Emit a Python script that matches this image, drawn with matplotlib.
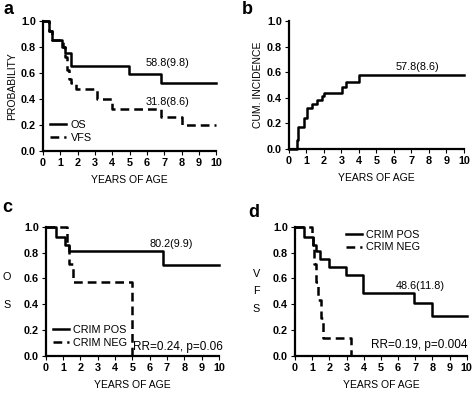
import matplotlib
matplotlib.use('Agg')
import matplotlib.pyplot as plt

plt.rcParams['font.family'] = ['Liberation Sans', 'DejaVu Sans']

# Panel a: OS and VFS
os_t = [0, 0.35, 0.55, 1.1, 1.3, 1.6, 4.95, 6.8, 10]
os_p = [1.0, 0.92, 0.85, 0.80, 0.75, 0.65, 0.59, 0.52, 0.52]
vfs_t = [0, 0.35, 0.55, 1.15, 1.3, 1.4, 1.5, 1.6, 1.9, 3.1, 4.0, 6.8, 8.0, 10]
vfs_p = [1.0, 0.92, 0.85, 0.80, 0.72, 0.62, 0.55, 0.52, 0.48, 0.40, 0.32, 0.26, 0.20, 0.20]

# Panel b: cumulative incidence
ci_t = [0, 0.44, 0.54, 0.86, 1.01, 1.3, 1.59, 1.87, 2.0, 3.02, 3.25, 4.0, 10]
ci_p = [0.0, 0.07, 0.17, 0.24, 0.32, 0.35, 0.38, 0.41, 0.44, 0.48, 0.52, 0.58, 0.58]

# Panel c: OS by CRIM status
c_pos_t = [0, 0.58, 1.13, 1.33, 6.77, 10]
c_pos_p = [1.0, 0.92, 0.86, 0.81, 0.70, 0.70]
c_neg_t = [0, 1.2, 1.35, 1.55, 1.65, 5.0]
c_neg_p = [1.0, 0.86, 0.71, 0.57, 0.57, 0.0]

# Panel d: VFS by CRIM status
d_pos_t = [0, 0.54, 1.04, 1.2, 1.47, 1.95, 2.98, 3.95, 6.9, 8.0, 10]
d_pos_p = [1.0, 0.92, 0.86, 0.81, 0.75, 0.69, 0.63, 0.49, 0.41, 0.31, 0.31]
d_neg_t = [0, 1.0, 1.05, 1.1, 1.2, 1.35, 1.5, 1.65, 3.27]
d_neg_p = [1.0, 0.93, 0.86, 0.71, 0.57, 0.43, 0.29, 0.14, 0.0]

xticks = list(range(0, 11))
yticks = [0.0, 0.2, 0.4, 0.6, 0.8, 1.0]

fig = plt.figure(figsize=(4.72, 3.95), dpi=100)

positions = {
    'a': [0.091, 0.618, 0.367, 0.329],
    'b': [0.612, 0.623, 0.371, 0.324],
    'c': [0.097, 0.099, 0.367, 0.327],
    'd': [0.625, 0.099, 0.364, 0.327],
}
# panel letter positions (axes fraction)
letter_pos = {'a': (-0.23, 1.085), 'b': (-0.27, 1.09), 'c': (-0.25, 1.15), 'd': (-0.27, 1.11)}

FS = 7.8
LW = 1.8
DASH = (0, (3.5, 2))


def setup(ax, letter):
    ax.set_xlim(0, 10)
    ax.set_ylim(0, 1)
    ax.spines['top'].set_visible(False)
    ax.spines['right'].set_visible(False)
    ax.spines['left'].set_linewidth(1.6)
    ax.spines['bottom'].set_linewidth(1.6)
    ax.set_xticks(xticks)
    ax.set_xticklabels([str(t) for t in xticks], fontsize=FS, fontweight='bold')
    ax.set_yticks(yticks)
    ax.set_yticklabels([f'{t:.1f}' for t in yticks], fontsize=FS, fontweight='bold')
    ax.tick_params(length=3, width=0.8, pad=2)
    ax.set_xlabel('YEARS OF AGE', fontsize=7.5, labelpad=5)
    lx, ly = letter_pos[letter]
    ax.text(lx, ly, letter, transform=ax.transAxes, fontsize=13,
            fontweight='bold', va='center', ha='left')


def legend(ax, anchor, loc):
    ax.legend(loc=loc, bbox_to_anchor=anchor, frameon=False, fontsize=FS,
              handlelength=1.5, handletextpad=0.4, labelspacing=0.25, borderaxespad=0)


axs = {k: fig.add_axes(v) for k, v in positions.items()}

# a
ax = axs['a']
setup(ax, 'a')
ax.step(os_t, os_p, where='post', color='black', lw=LW, label='OS', clip_on=False)
ax.step(vfs_t, vfs_p, where='post', color='black', lw=LW, ls=DASH, label='VFS', clip_on=False)
ax.text(7.2, 0.635, '58.8(9.8)', fontsize=FS, ha='center', va='bottom')
ax.text(7.2, 0.335, '31.8(8.6)', fontsize=FS, ha='center', va='bottom')
ax.set_ylabel('PROBABILITY', fontsize=7.5, labelpad=3)
legend(ax, (0.015, 0.03), 'lower left')

# b
ax = axs['b']
setup(ax, 'b')
ax.step(ci_t, ci_p, where='post', color='black', lw=LW, clip_on=False)
ax.text(7.35, 0.6, '57.8(8.6)', fontsize=FS, ha='center', va='bottom')
ax.set_ylabel('CUM. INCIDENCE', fontsize=7.5, labelpad=3)

# c
ax = axs['c']
setup(ax, 'c')
ax.step(c_pos_t, c_pos_p, where='post', color='black', lw=LW, label='CRIM POS', clip_on=False)
ax.step(c_neg_t, c_neg_p, where='post', color='black', lw=LW, ls=DASH, label='CRIM NEG', clip_on=False)
ax.text(7.25, 0.83, '80.2(9.9)', fontsize=FS, ha='center', va='bottom')
ax.text(10.25, 0.02, 'RR=0.24, p=0.06', fontsize=8.5, ha='right', va='bottom')
ax.set_ylabel('O\n\nS', fontsize=FS, rotation=0, va='center', ha='center', labelpad=12,
              linespacing=1.5)
legend(ax, (0.015, 0.03), 'lower left')

# d
ax = axs['d']
setup(ax, 'd')
ax.step(d_pos_t, d_pos_p, where='post', color='black', lw=LW, label='CRIM POS', clip_on=False)
ax.step(d_neg_t, d_neg_p, where='post', color='black', lw=LW, ls=DASH, label='CRIM NEG', clip_on=False)
ax.text(7.3, 0.5, '48.6(11.8)', fontsize=FS, ha='center', va='bottom')
ax.text(10.05, 0.04, 'RR=0.19, p=0.004', fontsize=8.5, ha='right', va='bottom')
ax.set_ylabel('V\n\nF\n\nS', fontsize=FS, rotation=0, va='center', ha='center', labelpad=12,
              linespacing=0.85)
legend(ax, (0.27, 1.01), 'upper left')

fig.savefig('out.png', dpi=100)
